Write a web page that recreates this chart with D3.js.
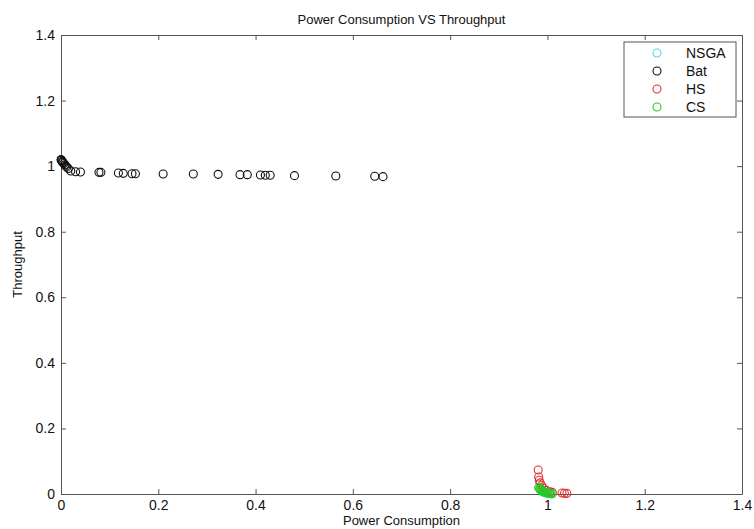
<!DOCTYPE html>
<html>
<head>
<meta charset="utf-8">
<script src="https://cdn.jsdelivr.net/npm/d3@7"></script>
<style>
  body { margin: 0; background: #fff; }
  svg { font-family: "Liberation Sans", Arial, sans-serif; }
</style>
</head>
<body>
<div id="chart"></div>
<script>
"use strict";
const margin = {top: 35, right: 12, bottom: 35, left: 61}; // px
const width = 754, height = 529;

const xTicks = [0, 0.2, 0.4, 0.6, 0.8, 1, 1.2, 1.4];
const yTicks = [0, 0.2, 0.4, 0.6, 0.8, 1, 1.2, 1.4];

const seriesNames = ["NSGA", "Bat", "HS", "CS"];
const seriesColors = ["#4fd8e0", "#111", "#d33", "#2c2"];

// Bat
const batX = [0, 0.001, 0.002, 0.003, 0.004, 0.006, 0.008, 0.01, 0.012, 0.015, 0.02, 0.03, 0.04,
  0.078, 0.082, 0.118, 0.128, 0.146, 0.153, 0.21, 0.272, 0.323, 0.368, 0.383,
  0.41, 0.42, 0.43, 0.48, 0.565, 0.645, 0.662];
const batY = [1.02, 1.018, 1.015, 1.013, 1.011, 1.008, 1.004, 1.0, 0.997, 0.993, 0.985, 0.983, 0.982,
  0.981, 0.981, 0.979, 0.978, 0.977, 0.977, 0.976, 0.976, 0.975, 0.974, 0.974,
  0.973, 0.972, 0.972, 0.971, 0.97, 0.969, 0.968];

// HS
const hsX = [0.981, 0.982, 0.983, 0.985, 0.988, 0.992, 0.998, 1.005, 1.01, 1.03, 1.035, 1.04];
const hsY = [0.073, 0.052, 0.042, 0.034, 0.026, 0.018, 0.011, 0.007, 0.005, 0.003, 0.002, 0.002];

// CS
const csX = [0.982, 0.984, 0.985, 0.987, 0.989, 0.991, 0.993, 0.995, 0.998, 1.0, 1.003, 1.006, 1.01];
const csY = [0.02, 0.017, 0.014, 0.012, 0.01, 0.008, 0.007, 0.005, 0.004, 0.003, 0.002, 0.001, 0.001];

// NSGA (hidden under CS)
const nsgaX = [0.99, 0.995, 1.0];
const nsgaY = [0.006, 0.004, 0.002];

const series = [
  {name: "NSGA", xs: nsgaX, ys: nsgaY},
  {name: "Bat", xs: batX, ys: batY},
  {name: "HS", xs: hsX, ys: hsY},
  {name: "CS", xs: csX, ys: csY}
];

const x = d3.scaleLinear().domain([0, 1.4]).range([margin.left, width - margin.right]);
const y = d3.scaleLinear().domain([0, 1.4]).range([height - margin.bottom, margin.top]);
const color = d3.scaleOrdinal().domain(seriesNames).range(seriesColors);

const svg = d3.select("#chart").append("svg")
    .attr("width", width)
    .attr("height", height);

const axisColor = "#555";
const fmt = (d) => (d === 0 || d === 1) ? String(d) : d.toFixed(1);

// bottom axis
const gx = svg.append("g")
    .attr("transform", `translate(0,${height - margin.bottom})`)
    .call(d3.axisBottom(x).tickValues(xTicks).tickFormat(fmt).tickSizeInner(-5).tickSizeOuter(0).tickPadding(6));
// left axis
const gy = svg.append("g")
    .attr("transform", `translate(${margin.left},0)`)
    .call(d3.axisLeft(y).tickValues(yTicks).tickFormat(fmt).tickSizeInner(-5).tickSizeOuter(0).tickPadding(6));
// top / right ticks
const gt = svg.append("g")
    .attr("transform", `translate(0,${margin.top})`)
    .call(d3.axisTop(x).tickValues(xTicks).tickFormat("").tickSizeInner(-5).tickSizeOuter(0));
const gr = svg.append("g")
    .attr("transform", `translate(${width - margin.right},0)`)
    .call(d3.axisRight(y).tickValues(yTicks).tickFormat("").tickSizeInner(-5).tickSizeOuter(0));

for (const g of [gx, gy, gt, gr]) {
  g.selectAll("path, line").attr("stroke", axisColor);
  g.selectAll("text").attr("fill", "#111").style("font-size", "14px");
}

// points
for (const s of series) {
  svg.append("g")
    .selectAll("circle")
    .data(s.xs.map((v, i) => [v, s.ys[i]]))
    .join("circle")
    .attr("cx", (d) => x(d[0]))
    .attr("cy", (d) => y(d[1]))
    .attr("r", 4)
    .attr("fill", "none")
    .attr("stroke", color(s.name))
    .attr("stroke-width", 1.1);
}

// title and labels
svg.append("text")
    .attr("x", (margin.left + width - margin.right) / 2)
    .attr("y", 24)
    .attr("text-anchor", "middle")
    .style("font-size", "13px")
    .attr("fill", "#111")
    .text("Power Consumption VS Throughput");

svg.append("text")
    .attr("x", (margin.left + width - margin.right) / 2)
    .attr("y", 525)
    .attr("text-anchor", "middle")
    .style("font-size", "13px")
    .attr("fill", "#111")
    .text("Power Consumption");

svg.append("text")
    .attr("transform", `translate(22,${(margin.top + height - margin.bottom) / 2}) rotate(-90)`)
    .attr("text-anchor", "middle")
    .style("font-size", "13px")
    .attr("fill", "#111")
    .text("Throughput");

// legend
const legend = svg.append("g").attr("transform", "translate(624,42)");
legend.append("rect")
    .attr("width", 112).attr("height", 75)
    .attr("fill", "#fff").attr("stroke", axisColor);
const rows = legend.selectAll("g").data(seriesNames).join("g")
    .attr("transform", (d, i) => `translate(0,${11 + i * 18})`);
rows.append("circle")
    .attr("cx", 33).attr("r", 4)
    .attr("fill", "none").attr("stroke", (d) => color(d)).attr("stroke-width", 1.1);
rows.append("text")
    .attr("x", 62).attr("dy", "0.35em")
    .style("font-size", "14px").attr("fill", "#111")
    .text((d) => d);
</script>
</body>
</html>
